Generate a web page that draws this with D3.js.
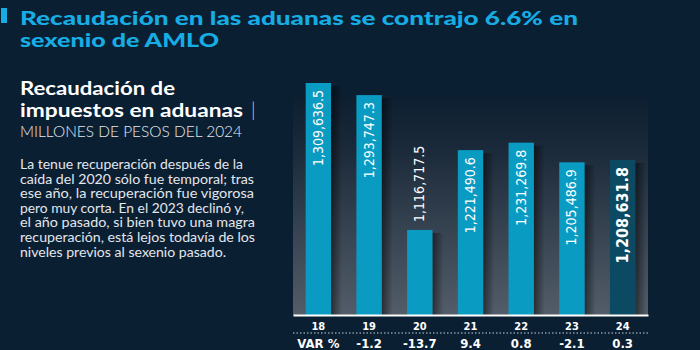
<!DOCTYPE html>
<html>
<head>
<meta charset="utf-8">
<script src="https://cdn.jsdelivr.net/npm/d3@7"></script>
<style>
  html, body { margin: 0; padding: 0; background: #0b1f33; }
  #chart { width: 700px; height: 350px; }
</style>
</head>
<body>
<div id="chart"></div>
<script>
// data
const years = ['18', '19', '20', '21', '22', '23', '24'];
const recaudacion = [1309636.5, 1293747.3, 1116717.5, 1221490.6, 1231269.8, 1205486.9, 1208631.8];
const variacion = ['-1.2', '-13.7', '9.4', '0.8', '-2.1', '0.3'];
const titleLines = ['Recaudación en las aduanas se contrajo 6.6% en', 'sexenio de AMLO'];
const bodyLines = [
  'La tenue recuperación después de la',
  'caída del 2020 sólo fue temporal; tras',
  'ese año, la recuperación fue vigorosa',
  'pero muy corta. En el 2023 declinó y,',
  'el año pasado, si bien tuvo una magra',
  'recuperación, está lejos todavía de los',
  'niveles previos al sexenio pasado.'
];

const W = 700, H = 350;
const cyan = '#16ade4';
const barColor = '#0a9bc3';
const lastColor = '#0b4a62';
const narrow = "'Liberation Sans Narrow', 'DejaVu Sans Condensed', sans-serif";
const sans = "Lato, 'Open Sans', sans-serif";

const svg = d3.select('#chart').append('svg')
  .attr('width', W)
  .attr('height', H);

const defs = svg.append('defs');

const panelGrad = defs.append('linearGradient')
  .attr('id', 'panel-grad')
  .attr('x1', '0%').attr('y1', '0%')
  .attr('x2', '0%').attr('y2', '100%');
panelGrad.append('stop').attr('offset', 0).attr('stop-color', '#0c1e30');
panelGrad.append('stop').attr('offset', 0.25).attr('stop-color', '#1b2a3a');
panelGrad.append('stop').attr('offset', 1).attr('stop-color', '#535d69');

const shadowGrad = defs.append('linearGradient')
  .attr('id', 'shadow-grad')
  .attr('x1', '0%').attr('y1', '0%')
  .attr('x2', '100%').attr('y2', '0%');
shadowGrad.append('stop').attr('offset', 0).attr('stop-color', '#000').attr('stop-opacity', 0.5);
shadowGrad.append('stop').attr('offset', 1).attr('stop-color', '#000').attr('stop-opacity', 0);

svg.append('rect').attr('width', W).attr('height', H).attr('fill', '#0b1f33');

// title
svg.append('rect')
  .attr('x', 1).attr('y', 8)
  .attr('width', 6).attr('height', 15)
  .attr('fill', cyan);

const titleWidths = [558, 199];
svg.append('g').selectAll('text')
  .data(titleLines)
  .join('text')
  .attr('x', 20)
  .attr('y', (d, i) => 25 + i * 22)
  .attr('fill', cyan)
  .attr('font-family', sans)
  .attr('font-weight', 900)
  .attr('font-size', 19.5)
  .attr('textLength', (d, i) => titleWidths[i])
  .attr('lengthAdjust', 'spacingAndGlyphs')
  .text(d => d);

// left block
const left = svg.append('g');
left.append('text')
  .attr('x', 20).attr('y', 95)
  .attr('fill', '#fff')
  .attr('font-family', sans).attr('font-weight', 700).attr('font-size', 19)
  .attr('textLength', 155).attr('lengthAdjust', 'spacingAndGlyphs')
  .text('Recaudación de');
left.append('text')
  .attr('x', 20).attr('y', 117)
  .attr('fill', '#fff')
  .attr('font-family', sans).attr('font-weight', 700).attr('font-size', 19)
  .attr('textLength', 223).attr('lengthAdjust', 'spacingAndGlyphs')
  .text('impuestos en aduanas');
left.append('text')
  .attr('x', 251).attr('y', 117)
  .attr('fill', '#c9ced6')
  .attr('font-family', sans).attr('font-weight', 300).attr('font-size', 19)
  .text('|');
left.append('text')
  .attr('x', 20).attr('y', 137)
  .attr('fill', '#e6e9ee')
  .attr('font-family', sans).attr('font-weight', 300).attr('font-size', 15)
  .attr('textLength', 222).attr('lengthAdjust', 'spacingAndGlyphs')
  .text('MILLONES DE PESOS DEL 2024');

const bodyWidths = [223, 234, 234, 224, 235, 235, 206];
left.append('g').selectAll('text')
  .data(bodyLines)
  .join('text')
  .attr('x', 20)
  .attr('y', (d, i) => 169 + i * 14.6)
  .attr('fill', '#e3e6eb')
  .attr('font-family', sans)
  .attr('font-size', 13.5)
  .attr('textLength', (d, i) => bodyWidths[i])
  .attr('lengthAdjust', 'spacingAndGlyphs')
  .text(d => d);

// chart panel
const plot = { left: 293, right: 648, top: 95, bottom: 315 };

svg.append('rect')
  .attr('x', plot.left).attr('y', plot.top)
  .attr('width', plot.right - plot.left)
  .attr('height', plot.bottom - plot.top)
  .attr('fill', 'url(#panel-grad)');

const x = d3.scaleBand()
  .domain(years)
  .range([plot.left, plot.right])
  .paddingInner(0.5)
  .paddingOuter(0.25);

const y = d3.scaleLinear()
  .domain([1005000, d3.max(recaudacion)])
  .range([plot.bottom, 83]);

const data = years.map((yr, i) => ({ year: yr, value: recaudacion[i], last: i === years.length - 1 }));

// shadows right of each bar
svg.append('g').selectAll('rect')
  .data(data)
  .join('rect')
  .attr('x', d => x(d.year) + x.bandwidth())
  .attr('y', d => y(d.value) + 3)
  .attr('width', 11)
  .attr('height', d => plot.bottom - y(d.value) - 3)
  .attr('fill', 'url(#shadow-grad)');

svg.append('g').selectAll('rect')
  .data(data)
  .join('rect')
  .attr('x', d => x(d.year))
  .attr('y', d => y(d.value))
  .attr('width', x.bandwidth())
  .attr('height', d => plot.bottom - y(d.value))
  .attr('fill', d => d.last ? lastColor : barColor);

// value labels, rotated
const fmt = d3.format(',.1f');
svg.append('g').selectAll('text')
  .data(data)
  .join('text')
  .attr('transform', d => {
    const cx = x(d.year) + x.bandwidth() / 2;
    const inside = plot.bottom - y(d.value) > 100;
    const ty = inside ? y(d.value) + 7 : y(d.value) - 8;
    return 'translate(' + (cx + (d.last ? 5.5 : 4.5)) + ',' + ty + ') rotate(-90)';
  })
  .attr('text-anchor', d => (plot.bottom - y(d.value) > 100) ? 'end' : 'start')
  .attr('fill', '#fff')
  .attr('font-family', narrow)
  .attr('font-weight', d => d.last ? 700 : 400)
  .attr('font-size', d => d.last ? 16 : 14)
  .text(d => fmt(d.value));

// axis with white baseline
const axis = svg.append('g')
  .attr('transform', 'translate(0,' + plot.bottom + ')')
  .call(d3.axisBottom(x).tickSize(0).tickSizeOuter(0).tickPadding(7));
axis.select('.domain').attr('stroke', '#fff').attr('stroke-width', 2.2);
axis.selectAll('text')
  .attr('fill', '#fff')
  .attr('font-family', narrow)
  .attr('font-weight', 700)
  .attr('font-size', 11);

// dotted separator
svg.append('line')
  .attr('x1', plot.left).attr('x2', plot.right)
  .attr('y1', 333).attr('y2', 333)
  .attr('stroke', '#8a95a3')
  .attr('stroke-width', 1.5)
  .attr('stroke-dasharray', '1.5,2');

// VAR % row
const varRow = [{ key: years[0], label: 'VAR %' }]
  .concat(variacion.map((v, i) => ({ key: years[i + 1], label: v })));
svg.append('g').selectAll('text')
  .data(varRow)
  .join('text')
  .attr('x', d => x(d.key) + x.bandwidth() / 2)
  .attr('y', 348)
  .attr('text-anchor', 'middle')
  .attr('fill', '#fff')
  .attr('font-family', narrow)
  .attr('font-weight', 700)
  .attr('font-size', 13)
  .text(d => d.label);
</script>
</body>
</html>
